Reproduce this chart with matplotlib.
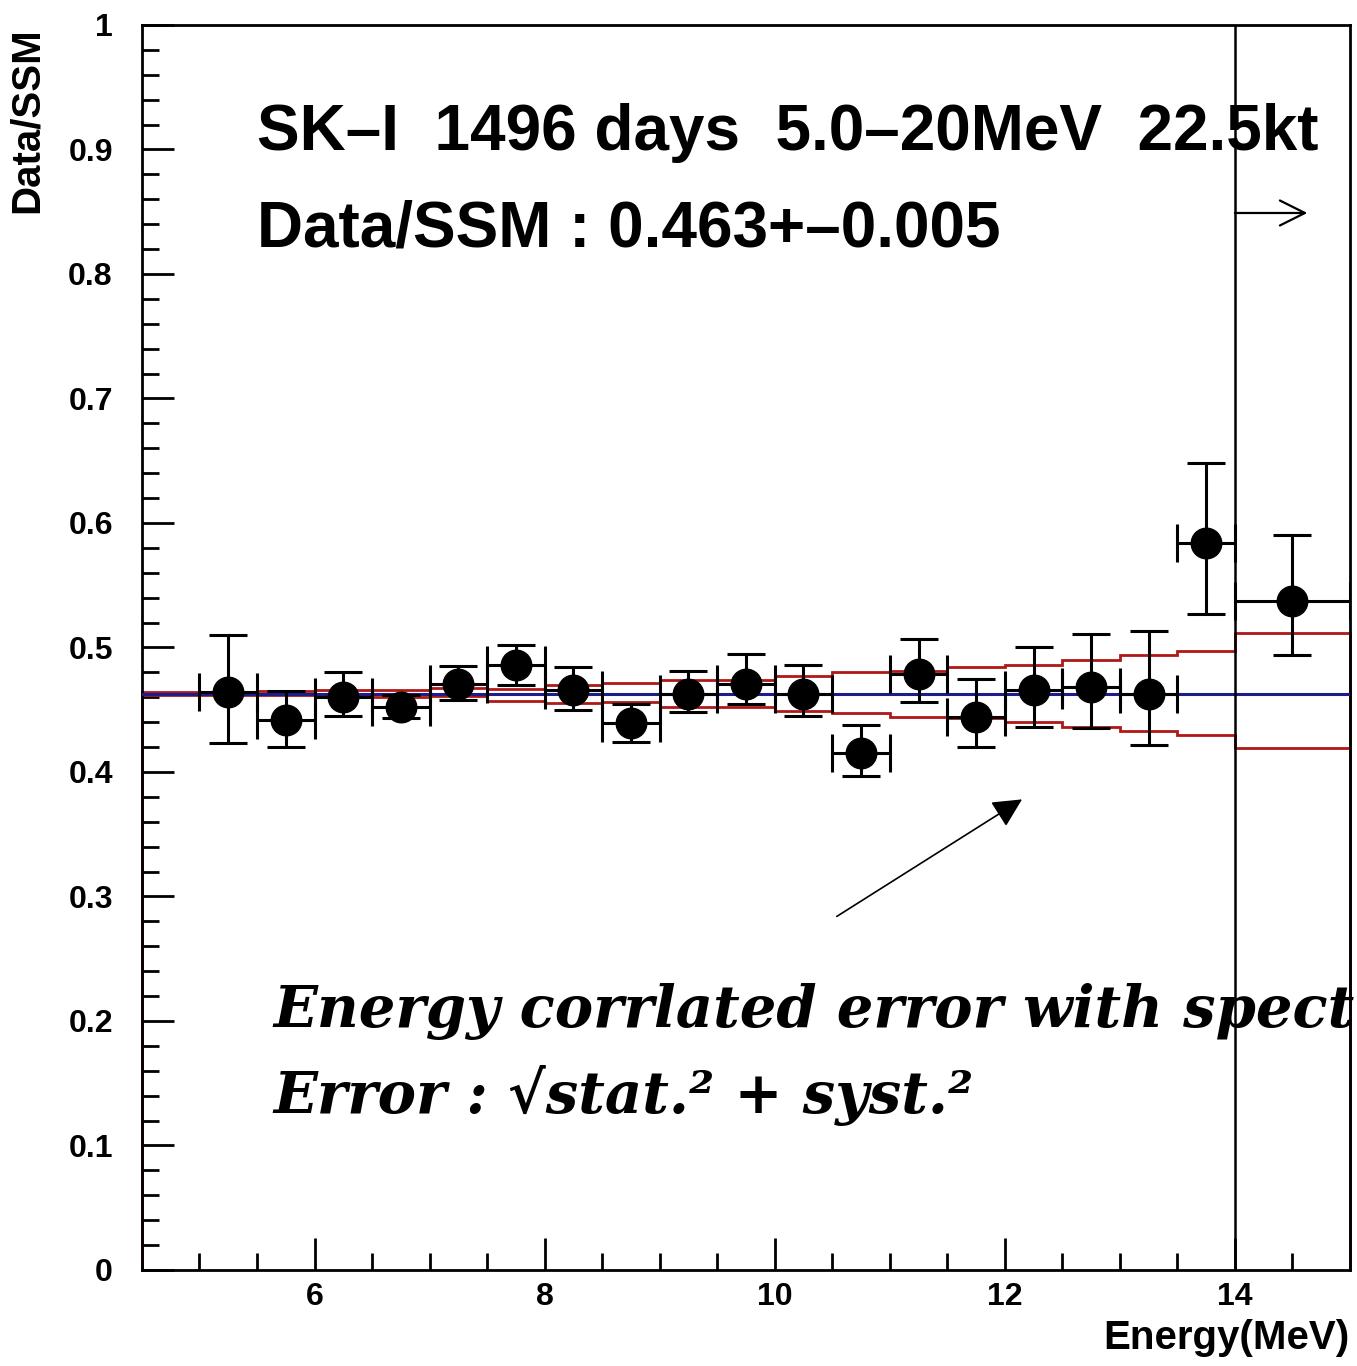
import matplotlib
matplotlib.use('Agg')
import matplotlib.pyplot as plt
from matplotlib.ticker import MultipleLocator, FuncFormatter

# ---- data ----
energy = [5.25, 5.75, 6.25, 6.75, 7.25, 7.75, 8.25, 8.75, 9.25, 9.75,
          10.25, 10.75, 11.25, 11.75, 12.25, 12.75, 13.25, 13.75, 14.5]
ratio = [0.464, 0.442, 0.460, 0.452, 0.471, 0.486, 0.466, 0.439, 0.463, 0.471,
         0.463, 0.415, 0.479, 0.444, 0.466, 0.468, 0.463, 0.584, 0.537]
ratio_hi = [0.510, 0.465, 0.480, 0.462, 0.485, 0.502, 0.484, 0.455, 0.481, 0.495,
            0.486, 0.438, 0.507, 0.475, 0.500, 0.511, 0.513, 0.648, 0.590]
ratio_lo = [0.423, 0.420, 0.445, 0.443, 0.458, 0.470, 0.450, 0.424, 0.448, 0.455,
            0.445, 0.397, 0.456, 0.420, 0.436, 0.435, 0.422, 0.527, 0.494]
bin_half_width = [0.25] * 18 + [0.5]

band_edges = [4.5, 5.0, 5.5, 6.0, 6.5, 7.0, 7.5, 8.0, 8.5, 9.0, 9.5, 10.0,
              10.5, 11.0, 11.5, 12.0, 12.5, 13.0, 13.5, 14.0, 15.0]
band_upper = [0.464, 0.464, 0.465, 0.466, 0.466, 0.4675, 0.467, 0.470, 0.4715, 0.474,
              0.474, 0.477, 0.480, 0.481, 0.484, 0.486, 0.490, 0.494, 0.497, 0.512]
band_lower = [0.462, 0.462, 0.462, 0.461, 0.460, 0.461, 0.457, 0.4555, 0.4565, 0.452,
              0.452, 0.449, 0.447, 0.444, 0.443, 0.440, 0.436, 0.433, 0.430, 0.419]

mean_ratio = 0.463
threshold_energy = 14.0

title1 = "SK–I  1496 days  5.0–20MeV  22.5kt"
title2 = "Data/SSM : 0.463+–0.005"
note1 = "Energy corrlated error with spect"
note2 = "Error : √stat.² + syst.²"

# ---- figure ----
fig = plt.figure(figsize=(13.57, 13.66), dpi=100)
ax = fig.add_axes([0.1046, 0.0703, 0.8902, 0.9114])
ax.set_xlim(4.5, 15.0)
ax.set_ylim(0, 1)

red = '#b01818'
ax.stairs(band_upper, band_edges, baseline=0, color=red, lw=2, zorder=2, clip_on=False)
ax.stairs(band_lower, band_edges, baseline=0, color=red, lw=2, zorder=2, clip_on=False)

ax.axhline(mean_ratio, color='#1c1c8c', lw=2.2, zorder=3)
ax.axvline(threshold_energy, color='black', lw=1.8, zorder=3)

yerr = [[r - lo for r, lo in zip(ratio, ratio_lo)],
        [hi - r for r, hi in zip(ratio, ratio_hi)]]
ax.errorbar(energy, ratio, yerr=yerr, xerr=bin_half_width, fmt='o',
            color='black', ms=22, lw=2.2, capsize=13.5, capthick=2.2, zorder=5)

# arrows
ax.annotate('', xy=(14.63, 0.849), xytext=(14.0, 0.849),
            arrowprops=dict(arrowstyle='->', lw=1.6, color='black',
                            mutation_scale=45, shrinkA=0, shrinkB=0))
ax.annotate('', xy=(12.15, 0.378), xytext=(10.54, 0.284),
            arrowprops=dict(arrowstyle='-|>', lw=1.2, color='black',
                            mutation_scale=45, shrinkA=0, shrinkB=0))

# texts
sans = ['Liberation Sans', 'DejaVu Sans']
ax.text(5.496, 0.8996, title1, fontsize=46, fontweight='bold', family=sans, va='baseline')
ax.text(5.496, 0.8217, title2, fontsize=46, fontweight='bold', family=sans, va='baseline')
serif = ['DejaVu Serif']
ax.text(5.643, 0.195, note1, fontsize=41.5, fontweight='bold', style='italic',
        family=serif, va='baseline', clip_on=False)
ax.text(5.643, 0.126, note2, fontsize=41.5, fontweight='bold', style='italic',
        family=serif, va='baseline')

# axes styling
for s in ax.spines.values():
    s.set_linewidth(2)
ax.xaxis.set_major_locator(MultipleLocator(2))
ax.xaxis.set_minor_locator(MultipleLocator(0.5))
ax.yaxis.set_major_locator(MultipleLocator(0.1))
ax.yaxis.set_minor_locator(MultipleLocator(0.02))
ax.yaxis.set_major_formatter(FuncFormatter(lambda v, p: '%g' % round(v, 2)))
ax.tick_params(which='both', direction='in', top=False, right=False, width=2)
ax.tick_params(which='major', length=23)
ax.tick_params(which='minor', length=12)
ax.tick_params(axis='y', which='major', pad=21)
ax.tick_params(axis='x', which='major', pad=9)
for lab in ax.get_xticklabels() + ax.get_yticklabels():
    lab.set_fontsize(23)
    lab.set_fontweight('bold')
    lab.set_family(sans)

ax.set_xlabel('Energy(MeV)', fontsize=29, fontweight='bold', family=sans, loc='right')
ax.xaxis.set_label_coords(1.0, -0.039)
ax.set_ylabel('Data/SSM', fontsize=29, fontweight='bold', family=sans, loc='top')
ax.yaxis.set_label_coords(-0.080, 0.998)

fig.savefig('out.png', dpi=100)
